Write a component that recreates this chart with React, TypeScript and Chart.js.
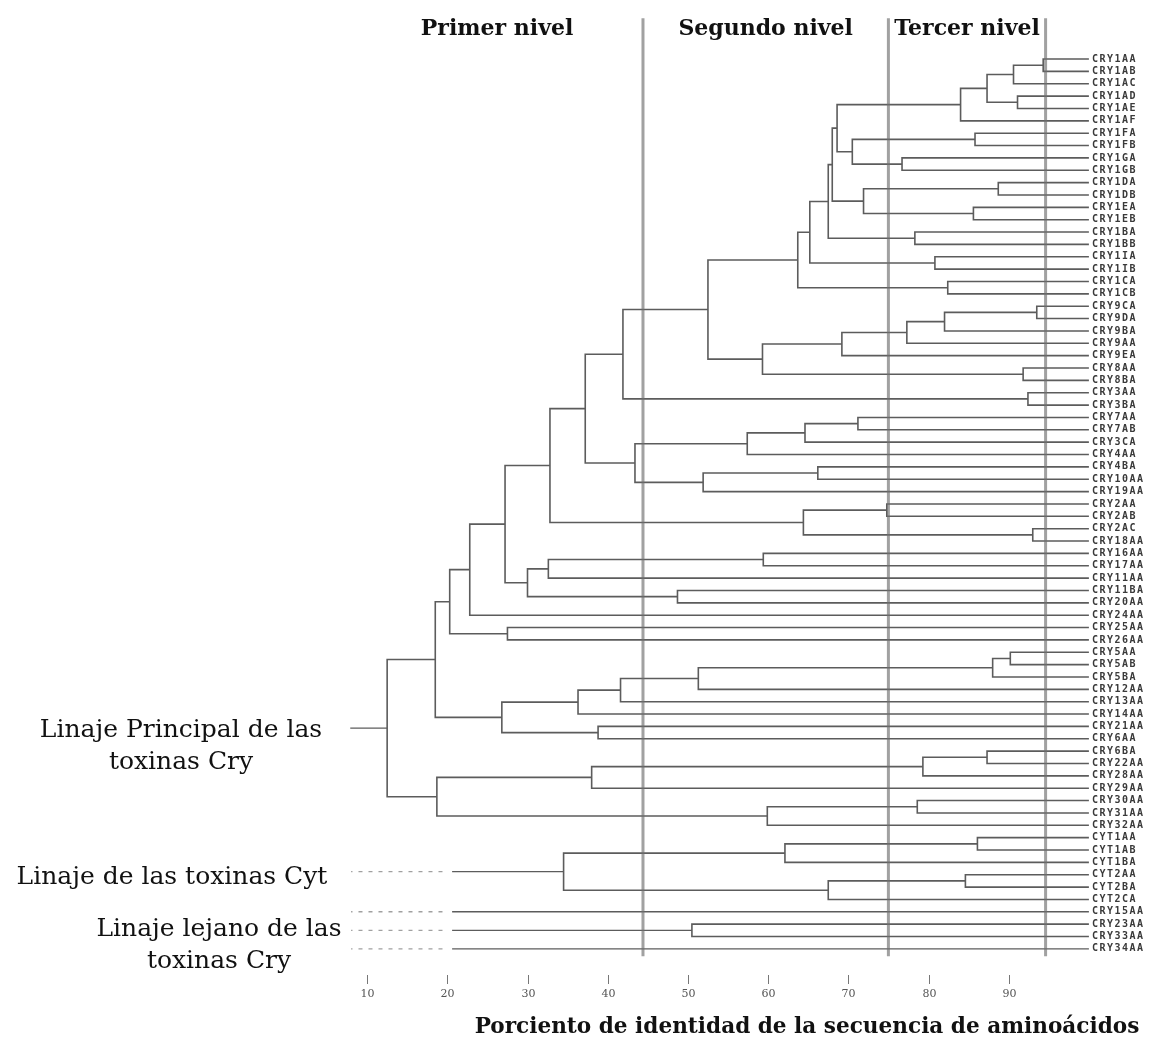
import React, { useEffect, useRef } from "react";
import { Chart, registerables } from "chart.js";
Chart.register(...registerables);

// Leaf labels, top to bottom
const leafLabels = [
  "CRY1AA", "CRY1AB", "CRY1AC", "CRY1AD", "CRY1AE", "CRY1AF", "CRY1FA", "CRY1FB",
  "CRY1GA", "CRY1GB", "CRY1DA", "CRY1DB", "CRY1EA", "CRY1EB", "CRY1BA", "CRY1BB",
  "CRY1IA", "CRY1IB", "CRY1CA", "CRY1CB", "CRY9CA", "CRY9DA", "CRY9BA", "CRY9AA",
  "CRY9EA", "CRY8AA", "CRY8BA", "CRY3AA", "CRY3BA", "CRY7AA", "CRY7AB", "CRY3CA",
  "CRY4AA", "CRY4BA", "CRY10AA", "CRY19AA", "CRY2AA", "CRY2AB", "CRY2AC", "CRY18AA",
  "CRY16AA", "CRY17AA", "CRY11AA", "CRY11BA", "CRY20AA", "CRY24AA", "CRY25AA", "CRY26AA",
  "CRY5AA", "CRY5AB", "CRY5BA", "CRY12AA", "CRY13AA", "CRY14AA", "CRY21AA", "CRY6AA",
  "CRY6BA", "CRY22AA", "CRY28AA", "CRY29AA", "CRY30AA", "CRY31AA", "CRY32AA", "CYT1AA",
  "CYT1AB", "CYT1BA", "CYT2AA", "CYT2BA", "CYT2CA", "CRY15AA", "CRY23AA", "CRY33AA",
  "CRY34AA",
];

// Leaf identity value (right edge of the tree)
const leafValue = 100;

// Merges: [child A, child B, % identity]; ids < 73 are leaves, node k gets id 73 + k
const merges: [number, number, number][] = [
  [0, 1, 94.3], [73, 2, 90.6], [3, 4, 91.1], [74, 75, 87.3], [76, 5, 84.0],
  [6, 7, 85.8], [8, 9, 76.7], [78, 79, 70.5], [77, 80, 68.6], [10, 11, 88.7],
  [12, 13, 85.6], [82, 83, 71.9], [81, 84, 68.0], [14, 15, 78.3], [85, 86, 67.5],
  [16, 17, 80.8], [87, 88, 65.2], [18, 19, 82.4], [89, 90, 63.7], [20, 21, 93.5],
  [92, 22, 82.0], [93, 23, 77.3], [94, 24, 69.2], [25, 26, 91.8], [95, 96, 59.3],
  [91, 97, 52.5], [27, 28, 92.4], [98, 99, 41.9], [29, 30, 71.2], [101, 31, 64.6],
  [102, 32, 57.4], [33, 34, 66.2], [104, 35, 51.9], [103, 105, 43.4], [100, 106, 37.2],
  [36, 37, 74.8], [38, 39, 93.0], [108, 109, 64.4], [107, 110, 32.8], [40, 41, 59.4],
  [112, 42, 32.6], [43, 44, 48.7], [113, 114, 30.0], [111, 115, 27.2], [116, 45, 22.8],
  [46, 47, 27.5], [117, 118, 20.3], [48, 49, 90.2], [120, 50, 88.0], [121, 51, 51.3],
  [122, 52, 41.6], [123, 53, 36.3], [54, 55, 38.8], [124, 125, 26.8], [119, 126, 18.5],
  [56, 57, 87.3], [128, 58, 79.3], [129, 59, 38.0], [60, 61, 78.6], [131, 62, 59.9],
  [130, 132, 18.7], [127, 133, 12.5], [63, 64, 86.1], [135, 65, 62.1], [66, 67, 84.6],
  [137, 68, 67.5], [136, 138, 34.5], [70, 71, 50.5],
];

// Lineage roots: [node id, solid stub end, dashed stub end (or null)]
const lineageStubs: [number, number, number | null][] = [
  [134, 7.9, null],
  [139, 20.6, 8.0],
  [69, 20.6, 8.0],
  [140, 20.6, 8.0],
  [72, 20.6, 8.0],
];

const levelValues = [44.4, 75.0, 94.6];
const levelTitles = ["Primer nivel", "Segundo nivel", "Tercer nivel"];
const levelTitleStart = 8;
const xTicks = [10, 20, 30, 40, 50, 60, 70, 80, 90];
const xTitle = "Porciento de identidad de la secuencia de aminoácidos";
const lineageLabels: { lines: string[]; leaf: number }[] = [
  { lines: ["Linaje Principal de las", "toxinas Cry"], leaf: 54.3 },
  { lines: ["Linaje de las toxinas Cyt"], leaf: 66.2 },
  { lines: ["Linaje lejano de las", "toxinas Cry"], leaf: 70.4 },
];

const LINE = "#5c5c5c";

function buildDatasets() {
  const nLeaves = leafLabels.length;
  const xs: number[] = [];
  const ys: number[] = [];
  for (let i = 0; i < nLeaves; i++) {
    xs[i] = leafValue;
    ys[i] = i;
  }
  const ds: any[] = [];
  merges.forEach(([a, b, h], k) => {
    const id = nLeaves + k;
    xs[id] = h;
    ys[id] = (ys[a] + ys[b]) / 2;
    ds.push({
      data: [
        { x: xs[a], y: ys[a] },
        { x: h, y: ys[a] },
        { x: h, y: ys[b] },
        { x: xs[b], y: ys[b] },
      ],
      borderColor: LINE,
      borderWidth: 1.6,
      order: 2,
    });
  });
  lineageStubs.forEach(([id, solidEnd, dashEnd]) => {
    ds.push({
      data: [
        { x: xs[id], y: ys[id] },
        { x: solidEnd, y: ys[id] },
      ],
      borderColor: LINE,
      borderWidth: 1.4,
      order: 2,
    });
    if (dashEnd !== null) {
      ds.push({
        data: [
          { x: solidEnd - 1.2, y: ys[id] },
          { x: dashEnd, y: ys[id] },
        ],
        borderColor: "#a0a0a0",
        borderWidth: 1.4,
        borderDash: [4, 6],
        order: 2,
      });
    }
  });
  levelValues.forEach((v) => {
    ds.push({
      data: [
        { x: v, y: -3.3 },
        { x: v, y: 72.6 },
      ],
      borderColor: "rgba(110,110,110,0.65)",
      borderWidth: 3,
      order: 1,
    });
  });
  return ds.map((d) => ({
    ...d,
    showLine: true,
    pointRadius: 0,
    pointHoverRadius: 0,
    fill: false,
    tension: 0,
    clip: false,
  }));
}

const textPlugin = {
  id: "dendroText",
  afterDraw(chart: any) {
    const ctx = chart.ctx as CanvasRenderingContext2D;
    const xs = chart.scales.x;
    const ys = chart.scales.y;
    ctx.save();
    // level titles
    ctx.fillStyle = "#111";
    ctx.font = "bold 22px 'DejaVu Serif'";
    ctx.textAlign = "center";
    ctx.textBaseline = "middle";
    const bounds = [levelTitleStart, ...levelValues];
    levelTitles.forEach((t, i) => {
      const cx = xs.getPixelForValue((bounds[i] + bounds[i + 1]) / 2);
      ctx.fillText(t, cx, 29);
    });
    // ticks
    ctx.strokeStyle = "#777";
    ctx.lineWidth = 1;
    ctx.fillStyle = "#555";
    ctx.font = "11px 'DejaVu Serif'";
    xTicks.forEach((t) => {
      const px = Math.round(xs.getPixelForValue(t)) + 0.5;
      ctx.beginPath();
      ctx.moveTo(px, 975);
      ctx.lineTo(px, 984);
      ctx.stroke();
      ctx.fillText(String(t), px, 994);
    });
    // axis title
    ctx.fillStyle = "#111";
    ctx.font = "bold 21.6px 'DejaVu Serif'";
    ctx.fillText(xTitle, 807, 1027);
    // lineage labels
    ctx.font = "25px 'DejaVu Serif'";
    const centers = [181, 172, 219];
    lineageLabels.forEach((lab, i) => {
      const y0 = ys.getPixelForValue(lab.leaf);
      lab.lines.forEach((ln, j) => {
        ctx.fillText(ln, centers[i], y0 + j * 32);
      });
    });
    // leaf labels
    ctx.textAlign = "left";
    ctx.fillStyle = "#3a3a3a";
    ctx.font = "bold 10px 'DejaVu Sans Mono'";
    (ctx as any).letterSpacing = "1.5px";
    leafLabels.forEach((l, i) => {
      ctx.fillText(l, xs.getPixelForValue(leafValue) + 3, ys.getPixelForValue(i));
    });
    ctx.restore();
  },
};

export default function App() {
  const ref = useRef<HTMLCanvasElement | null>(null);
  useEffect(() => {
    if (!ref.current) return;
    const chart = new Chart(ref.current, {
      type: "scatter",
      data: { datasets: buildDatasets() },
      options: {
        animation: false,
        responsive: true,
        maintainAspectRatio: false,
        layout: { padding: { left: 327, right: 34, top: 9.6, bottom: 65.4 } },
        plugins: { legend: { display: false }, tooltip: { enabled: false } },
        events: [],
        scales: {
          x: { type: "linear", min: 5, max: 105, display: false },
          y: { type: "linear", min: -4, max: 74, reverse: true, display: false },
        },
      },
      plugins: [textPlugin],
    });
    return () => chart.destroy();
  }, []);
  return (
    <div style={{ position: "fixed", left: 0, top: 0, width: 1163, height: 1039, background: "#fff" }}>
      <canvas ref={ref} />
    </div>
  );
}
